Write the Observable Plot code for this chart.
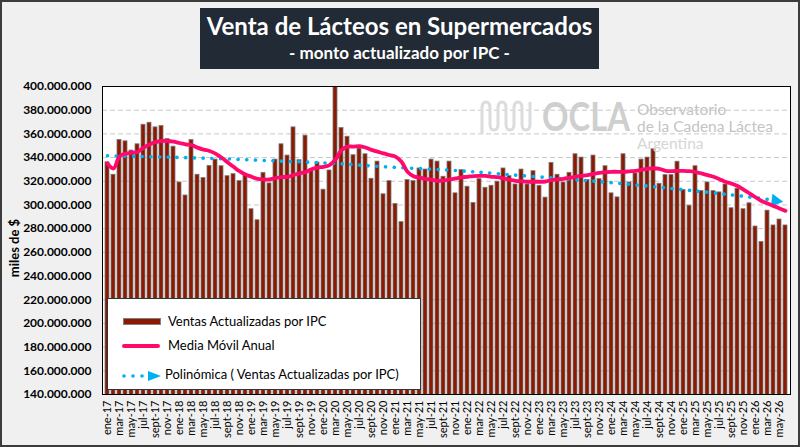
<!DOCTYPE html>
<html>
<head>
<meta charset="utf-8">
<script src="https://cdn.jsdelivr.net/npm/d3@7"></script>
<script src="https://cdn.jsdelivr.net/npm/@observablehq/plot@0.6"></script>
<style>
  html, body { margin: 0; padding: 0; background: #f0f0f0; }
  #wrap { position: relative; width: 800px; height: 447px; background: #f0f0f0; overflow: hidden; font-family: Lato, "Open Sans", sans-serif; }
  #chart svg { display: block; background: transparent; }
  .abs { position: absolute; }
  #border { left: 0; top: 0; width: 800px; height: 447px; box-sizing: border-box; border: 2px solid #3c3c3c; pointer-events: none; }
  #title { left: 200px; top: 8px; width: 399px; height: 61px; background: #222a35; color: #fff; text-align: center; font-weight: bold; }
  #title .t1 { font-size: 24px; line-height: 28px; margin-top: 4px; }
  #title .t2 { font-size: 17px; line-height: 22px; margin-top: 2px; }
  #ylab { left: 14px; top: 248px; transform: translate(-50%, -50%) rotate(-90deg); font-weight: bold; font-size: 13px; white-space: nowrap; color: #000; }
  #legend { left: 107px; top: 298px; width: 314px; height: 92px; box-sizing: border-box; background: #fff; border: 1px solid #333; font-size: 13px; color: #000; }
  .li { position: absolute; left: 0; height: 20px; width: 312px; }
  .li span { position: absolute; top: 1px; white-space: nowrap; }
  #wm1 { left: 542px; top: 93px; font-size: 41px; line-height: 46px; font-weight: bold; color: #cfcfcf; transform: scaleX(0.8); transform-origin: left top; }
  .wm2 { left: 637px; font-size: 15.5px; line-height: 16px; color: #c4c4c4; white-space: nowrap; }
</style>
</head>
<body>
<div id="wrap">
  <div id="chart"></div>
  <div id="wm1" class="abs">OCLA</div>
  <div class="abs wm2" style="top:101px">Observatorio</div>
  <div class="abs wm2" style="top:118px">de la Cadena Láctea</div>
  <div class="abs wm2" style="top:135px;color:#d6d6d6">Argentina</div>
  <svg class="abs" style="left:478px;top:98px" width="60" height="40">
    <path d="M4,36 L4,10 Q4,4 8,4 Q12,4 12,10 L12,26 Q12,32 16,32 Q20,32 20,26 L20,10 Q20,4 24,4 Q28,4 28,10 L28,26 Q28,32 32,32 Q36,32 36,26 L36,10 Q36,4 40,4 Q44,4 44,10 L44,26 Q44,32 48,32 Q52,32 52,26 L52,4" fill="none" stroke="#dcdcdc" stroke-width="3"/>
  </svg>
  <div id="title" class="abs">
    <div class="t1">Venta de Lácteos en Supermercados</div>
    <div class="t2">- monto actualizado por IPC -</div>
  </div>
  <div id="ylab" class="abs">miles de $</div>
  <div id="legend" class="abs">
    <div class="li" style="top:13px">
      <div class="abs" style="left:15px;top:6px;width:36px;height:5px;background:#8b1a03;border:1px solid #808080"></div>
      <span style="left:60px">Ventas Actualizadas por IPC</span>
    </div>
    <div class="li" style="top:37px">
      <div class="abs" style="left:14px;top:8px;width:38px;height:4px;background:#ff0a6c;border-radius:2px"></div>
      <span style="left:60px">Media Móvil Anual</span>
    </div>
    <div class="li" style="top:67px">
      <svg class="abs" style="left:12px;top:2px" width="44" height="16">
        <circle cx="4" cy="8" r="1.8" fill="#00b0f0"/>
        <circle cx="13" cy="8" r="1.8" fill="#00b0f0"/>
        <circle cx="22" cy="8" r="1.8" fill="#00b0f0"/>
        <path d="M28,3 L41,8 L28,13 Z" fill="#00b0f0"/>
      </svg>
      <span style="left:57px;top:0px">Polinómica ( Ventas Actualizadas por IPC)</span>
    </div>
  </div>
  <div id="border" class="abs"></div>
</div>
<script>
// ---- Data (millones de $; el eje muestra miles de $) ----
const meses = ["ene","feb","mar","abr","may","jun","jul","ago","sept","oct","nov","dic"];
const anios = ["17","18","19","20","21","22","23","24","25","26"];

const ventas = [
  336, 325.5, 354.8, 353.7, 345.9, 351.2, 367.7, 369.4, 365.5, 366.6, 355.7, 349.2,
  319, 308, 354.8, 325.5, 322.7, 333, 338.3, 332.7, 324.3, 326, 320.1, 325.7,
  296.4, 287.1, 327.1, 318.2, 338.3, 351.2, 341.7, 365.5, 337.8, 358.5, 328.5, 335.8,
  312.9, 329.1, 400, 364.9, 357.6, 342, 347.6, 342.8, 322.1, 336.6, 309, 320.1,
  300.8, 285.5, 321, 320.1, 330.8, 329.9, 338.3, 336.6, 323.8, 336.6, 309.8, 329.4,
  315.4, 301.7, 321.8, 314.5, 316.2, 319.6, 330.8, 324.3, 317.3, 329.9, 317.3, 328.5,
  316.2, 306.2, 335.5, 325.5, 319, 327.1, 342.8, 340, 321, 341.7, 321.8, 332.7,
  309.8, 306.4, 342.8, 319, 326.6, 338.3, 340, 347, 317.9, 325.2, 325.2, 336.5,
  312.6, 299.4, 332.7, 311.7, 319, 311.7, 310.6, 317.3, 297.2, 313.7, 296.4, 301.4,
  281.8, 268.7, 295.2, 282.7, 287.7, 282.7
];

const mediaMovil = [
  335, 330.8, 341, 343.4, 344, 344.8, 348.4, 351, 353, 354, 354, 353.4,
  352.3, 351.2, 350.6, 348.4, 346.7, 345.6, 343.4, 340, 336, 332.2, 328.5, 325.7,
  323.8, 322, 321.5, 321.5, 322.7, 323.5, 323.8, 325.2, 326.6, 327.7, 330.2, 331.6,
  332.2, 333.6, 338.3, 346.2, 349.2, 349.3, 349.6, 348.5, 346.5, 345, 343.5, 342.2,
  340.8, 336.5, 328, 324.3, 323, 322.1, 321.3, 320.4, 320.7, 321.5, 322.4, 323.3,
  323.8, 324.4, 324.6, 324.5, 323.8, 323.4, 322.4, 321.3, 320.4, 320, 319.6, 319.6,
  319.6, 319.8, 321, 321.5, 322.1, 323, 323.8, 324.5, 325.2, 326.2, 327.1, 327.6,
  328, 328, 328, 328.4, 328.8, 329.6, 330.5, 331, 330.5, 328.8, 328.5, 328.8,
  328.8, 328.5, 327.8, 326.6, 325.2, 323.8, 321.8, 319.6, 318, 316, 313, 309.8,
  306.5, 303.4, 301.3, 299.2, 297, 295
];

const tendPos = [1, 10, 20, 30, 39, 48, 58, 67, 77, 86, 96, 105, 113];
const tendVal = [341.5, 340.5, 339, 337, 335, 332, 329.4, 326, 322.1, 318.4, 313.4, 308.5, 303.5];

const yTicks = [140, 160, 180, 200, 220, 240, 260, 280, 300, 320, 340, 360, 380, 400];

// ---- Build tables ----
const periodos = [];
for (const a of anios) for (const m of meses) if (periodos.length < ventas.length) periodos.push(`${m}-${a}`);
const tickLabels = periodos.filter((d, i) => i % 2 === 0);

const barras = periodos.map((p, i) => ({mes: p, valor: ventas[i]}));
const media = periodos.map((p, i) => ({mes: p, valor: mediaMovil[i]}));
const tend = tendPos.map((p, i) => ({mes: periodos[p - 1], valor: tendVal[i]}));

const fmt = d => d3.format(",")(d * 1e6).replace(/,/g, ".");

const chart = Plot.plot({
  width: 800,
  height: 447,
  marginLeft: 102,
  marginRight: 10,
  marginTop: 86,
  marginBottom: 53,
  style: {fontFamily: "Lato, 'Open Sans', sans-serif", background: "transparent", color: "#000"},
  x: {type: "band", domain: periodos, padding: 0.3},
  y: {domain: [140, 400]},
  marks: [
    Plot.frame({fill: "white", stroke: null}),
    Plot.gridY(yTicks.slice(1, -1), {stroke: "#c8c8c8", strokeOpacity: 1, strokeDasharray: "5,3"}),
    Plot.barY(barras, {x: "mes", y: "valor", fill: "#8b1a03", stroke: "#7a7a7a", strokeWidth: 0.8, clip: true}),
    Plot.line(tend, {x: "mes", y: "valor", stroke: "#00b0f0", strokeWidth: 3.6, strokeDasharray: "0.1 8.6", strokeLinecap: "round", curve: "natural"}),
    Plot.dot(tend.slice(-1), {x: "mes", y: "valor", symbol: "triangle", r: 5, fill: "#00b0f0", stroke: null, rotate: 97, dx: -4}),
    Plot.line(media, {x: "mes", y: "valor", stroke: "#ff0a6c", strokeWidth: 3.8, curve: "catmull-rom"}),
    Plot.frame({stroke: "#000", strokeWidth: 1}),
    Plot.axisY(yTicks, {tickFormat: fmt, tickSize: 0, tickPadding: 11, fontSize: 12, fontWeight: "bold", label: null}),
    Plot.axisX(tickLabels, {tickRotate: -90, tickSize: 0, tickPadding: 6, fontSize: 11, label: null})
  ]
});
document.getElementById("chart").appendChild(chart);
</script>
</body>
</html>
